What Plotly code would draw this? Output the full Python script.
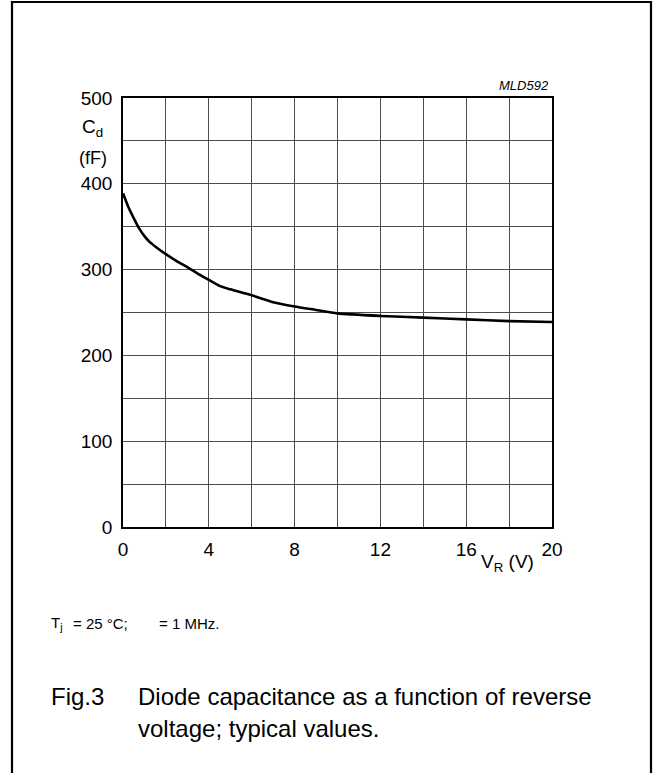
import plotly.graph_objects as go

# Data
vr_volts = [0, 0.25, 0.5, 0.75, 1.0, 1.25, 1.5, 2, 2.5, 3, 3.5, 4, 4.5, 5, 6, 7, 8, 9, 10, 12, 14, 16, 18, 20]
cd_ff = [389, 373, 360, 348, 339, 332, 327, 318, 310, 303, 295, 288, 281, 277, 270, 262, 257, 253, 249, 246, 244, 242, 240, 239]

x_major = [0, 4, 8, 12, 16, 20]
x_labels = ["0", "4", "8", "12", "16", "20"]
x_minor = [2, 6, 10, 14, 18]
y_major = [0, 100, 200, 300, 400, 500]
y_labels = ["0", "100", "200", "300", "400", "500"]
y_minor = [50, 150, 250, 350, 450]

W, H = 656, 773
L, R, T, B = 123, 552, 98, 527
FONT = "Arial, Liberation Sans, sans-serif"


def px(x):
    return (x - L) / (R - L)


def py(y):
    return (B - y) / (B - T)


fig = go.Figure()
fig.add_trace(go.Scatter(
    x=vr_volts, y=cd_ff, mode="lines",
    line=dict(color="black", width=2.6, shape="spline", smoothing=0.6),
    showlegend=False, hoverinfo="skip",
))

GRID = "#4d4d4d"
axis_common = dict(
    showgrid=True, gridcolor=GRID, gridwidth=1.2,
    zeroline=False, showline=True, linecolor="black", linewidth=1.5, mirror=True,
    ticks="", tickfont=dict(family=FONT, size=19, color="black"),
)
fig.update_xaxes(range=[0, 20], tickvals=x_major, ticktext=x_labels,
                 minor=dict(tickvals=x_minor, showgrid=True, gridcolor=GRID, gridwidth=1.2, ticks=""),
                 ticklabelstandoff=4, **axis_common)
fig.update_yaxes(range=[0, 500], tickvals=y_major, ticktext=y_labels,
                 minor=dict(tickvals=y_minor, showgrid=True, gridcolor=GRID, gridwidth=1.2, ticks=""),
                 ticklabelstandoff=5, **axis_common)

annotations = [
    dict(text="C<sub>d</sub>", x=px(80), y=py(128), xanchor="left", yanchor="middle", size=19),
    dict(text="(fF)", x=px(77), y=py(158), xanchor="left", yanchor="middle", size=18),
    dict(text="V<sub>R</sub> (V)", x=px(479), y=py(563), xanchor="left", yanchor="middle", size=19),
    dict(text="<i>MLD592</i>", x=px(551), y=py(85), xanchor="right", yanchor="middle", size=13),
    dict(text="T<sub>j</sub>", x=px(49), y=py(623), xanchor="left", yanchor="middle", size=15),
    dict(text="= 25 °C;", x=px(71), y=py(623), xanchor="left", yanchor="middle", size=15),
    dict(text="= 1 MHz.", x=px(157), y=py(623), xanchor="left", yanchor="middle", size=15),
    dict(text="Fig.3", x=px(49), y=py(696), xanchor="left", yanchor="middle", size=24),
    dict(text="Diode capacitance as a function of reverse", x=px(136), y=py(696), xanchor="left", yanchor="middle", size=24),
    dict(text="voltage; typical values.", x=px(136), y=py(728), xanchor="left", yanchor="middle", size=24),
]
for a in annotations:
    size = a.pop("size")
    fig.add_annotation(xref="paper", yref="paper", showarrow=False,
                       font=dict(family=FONT, size=size, color="black"), **a)

# outer frame
fig.add_shape(type="rect", xref="paper", yref="paper",
              x0=px(12), x1=px(651), y0=py(790), y1=py(2),
              line=dict(color="black", width=2.2), fillcolor="rgba(0,0,0,0)", layer="above")

fig.update_layout(
    width=W, height=H,
    margin=dict(l=L, r=W - R, t=T, b=H - B),
    paper_bgcolor="white", plot_bgcolor="white",
    font=dict(family=FONT, color="black"),
)

fig.write_html("out.html", config={"displayModeBar": False},
               post_script="document.body.style.margin='0';document.body.style.overflow='hidden';")
